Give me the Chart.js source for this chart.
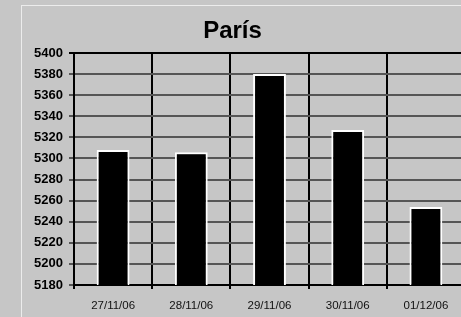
<!DOCTYPE html>
<html>
<head>
<meta charset="utf-8">
<script src="https://cdn.jsdelivr.net/npm/chart.js@4"></script>
<style>
  html, body { margin: 0; padding: 0; background: #c6c6c6; overflow: hidden; }
  #wrap { position: relative; width: 461px; height: 317px; overflow: hidden; }
  #frame { position: absolute; left: 21px; top: 5px; width: 600px; height: 400px;
           border-left: 1px solid #ececec; border-top: 1px solid #ececec; }
  canvas { position: absolute; left: 0; top: 0; }
</style>
</head>
<body>
<div id="wrap">
  <div id="frame"></div>
  <canvas id="chart" width="512" height="317"></canvas>
</div>
<script>
const categories = ['27/11/06', '28/11/06', '29/11/06', '30/11/06', '01/12/06'];
const values = [5308, 5306, 5380, 5327, 5254];
const yMin = 5180;
const yMax = 5400;
const yStep = 20;

const fontFamily = "'Liberation Sans', Arial, sans-serif";

const ctx = document.getElementById('chart').getContext('2d');
new Chart(ctx, {
    type: 'bar',
    data: {
        labels: categories,
        datasets: [{
            data: values,
            backgroundColor: '#000000',
            borderColor: '#ffffff',
            borderWidth: 2,
            categoryPercentage: 1,
            barPercentage: 0.42,
        }]
    },
    options: {
        responsive: false,
        animation: false,
        layout: { padding: { left: 0, right: 47, top: 0, bottom: 0 } },
        plugins: {
            legend: { display: false },
            tooltip: { enabled: false },
            title: {
                display: true,
                text: 'París',
                color: '#000',
                font: { family: fontFamily, size: 24, weight: 'bold' },
                padding: { top: 17, bottom: 7.2 },
            },
        },
        scales: {
            x: {
                grid: { color: '#000', lineWidth: 2, tickLength: 4, offset: true },
                border: { color: '#000', width: 2 },
                ticks: {
                    color: '#111',
                    padding: 10,
                    maxRotation: 0,
                    autoSkip: false,
                    font: { family: fontFamily, size: 11.5 },
                },
                afterFit: (scale) => { scale.height = 32; },
            },
            y: {
                min: yMin,
                max: yMax,
                grid: {
                    color: (c) => (c.tick && c.tick.value === yMax ? '#000' : '#555'),
                    lineWidth: 2,
                    tickLength: 5,
                },
                border: { color: '#000', width: 2 },
                ticks: {
                    stepSize: yStep,
                    autoSkip: false,
                    color: '#000',
                    padding: 6,
                    font: { family: fontFamily, size: 13, weight: 'bold' },
                    callback: (v) => String(v),
                },
                afterFit: (scale) => { scale.width = 74; },
            },
        },
    },
});
</script>
</body>
</html>
